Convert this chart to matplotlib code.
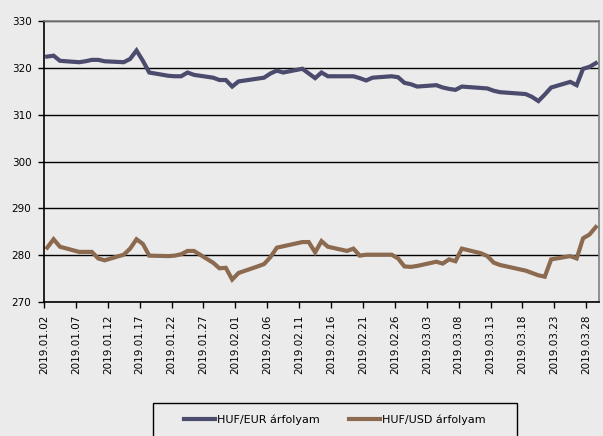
import matplotlib.pyplot as plt
import matplotlib.dates as mdates
import matplotlib.patches as mpatches
import pandas as pd

# Trading days (Mar 15 is a Hungarian holiday)
trade_days = pd.bdate_range("2019-01-02", "2019-03-29", freq="C", holidays=["2019-03-15"])

huf_eur = [
    322.4, 322.6, 321.5, 321.2, 321.4, 321.7, 321.7, 321.4, 321.2, 321.9, 323.7,
    321.5, 319.0, 318.3, 318.2, 318.2, 319.0, 318.5, 317.9, 317.4, 317.4, 316.0,
    317.1, 317.7, 317.9, 318.8, 319.4, 319.0, 319.8, 318.8, 317.8, 319.0, 318.2,
    318.2, 318.2, 317.8, 317.3, 317.9, 318.2, 318.0, 316.8, 316.5,
    316.0, 316.3, 315.8, 315.5, 315.3, 316.0, 315.7, 315.6, 315.1, 314.8, 314.4,
    313.8, 312.9, 314.3, 315.8, 317.0, 316.3, 319.8, 320.2, 321.0,
]
huf_usd = [
    281.6, 283.4, 281.8, 280.7, 280.7, 280.7, 279.3, 278.9, 280.1, 281.4, 283.4,
    282.4, 279.9, 279.8, 279.9, 280.2, 280.9, 280.9, 278.4, 277.2, 277.3, 274.8,
    276.2, 277.6, 278.1, 279.6, 281.6, 281.9, 282.8, 282.8, 280.6, 283.0, 281.8,
    280.9, 281.4, 279.9, 280.1, 280.1, 280.1, 279.3, 277.6, 277.5,
    277.7, 278.6, 278.2, 279.1, 278.7, 281.4, 280.4, 279.8, 278.4, 277.9, 276.7,
    276.2, 275.7, 275.4, 279.1, 279.8, 279.3, 283.6, 284.4, 286.0,
]
series_labels = ["HUF/EUR árfolyam", "HUF/USD árfolyam"]
colors = ["#4b4b6d", "#8b6a50"]
bg = "#ebebeb"

plt.rcParams["font.family"] = "DejaVu Sans"

fig = plt.figure(figsize=(6.03, 4.36), dpi=100, facecolor=bg)
ax = fig.add_axes([44 / 603, 1 - 302 / 436, 555 / 603, 281 / 436], facecolor=bg)

# points sit in the middle of each day, like an Excel date axis
x = mdates.date2num(trade_days.to_pydatetime()) + 0.5
ax.plot(x, huf_eur, color=colors[0], lw=3, label=series_labels[0], solid_joinstyle="miter")
ax.plot(x, huf_usd, color=colors[1], lw=3, label=series_labels[1], solid_joinstyle="miter")

ax.set_ylim(270, 330)
ax.set_yticks(range(270, 331, 10))
ax.yaxis.grid(True, color="black", lw=1.0)
ax.set_axisbelow(True)

start = mdates.date2num(pd.Timestamp("2019-01-02"))
ax.set_xlim(start, start + 87)
ticks = [start + 5 * i for i in range(18)]
ax.set_xticks(ticks)
ax.set_xticklabels([mdates.num2date(t).strftime("%Y.%m.%d") for t in ticks], rotation=90)

ax.tick_params(axis="both", direction="out", length=4, width=1, labelsize=7.5, colors="black")
ax.tick_params(axis="x", pad=5)
ax.tick_params(axis="y", pad=5)
for side in ["left", "bottom"]:
    ax.spines[side].set_color("black")
    ax.spines[side].set_linewidth(1.2)
for side in ["top", "right"]:
    ax.spines[side].set_color("#7f7f7f")
    ax.spines[side].set_linewidth(1.2)

# legend box, partly cut at the bottom as in the original
fig.patches.append(mpatches.Rectangle((153 / 603, -0.05), 364 / 603, 0.05 + 33 / 436,
                                      transform=fig.transFigure, fill=False,
                                      edgecolor="black", lw=1.0))
fig.legend(loc="center", bbox_to_anchor=(335 / 603, 1 - 420 / 436), ncol=2, frameon=False,
           fontsize=8, handlelength=2.8, handletextpad=0.2, columnspacing=2.6)

fig.savefig("out.png", dpi=100, facecolor=bg)
